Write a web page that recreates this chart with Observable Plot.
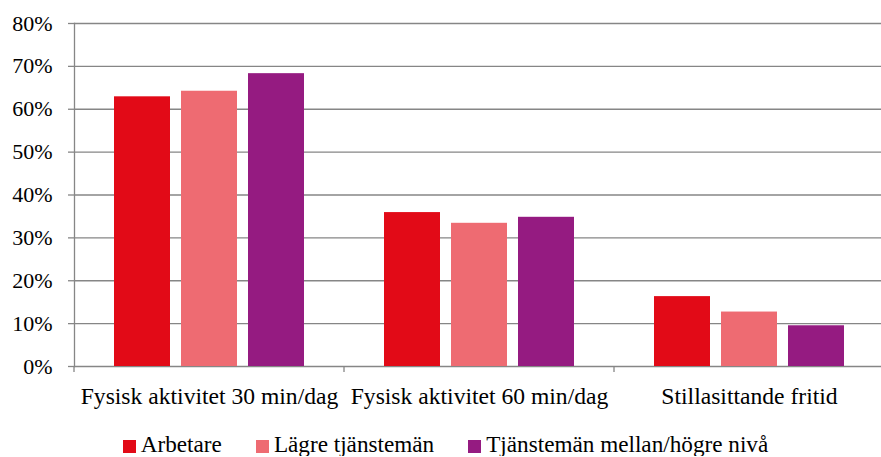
<!DOCTYPE html>
<html>
<head>
<meta charset="utf-8">
<script src="https://cdn.jsdelivr.net/npm/d3@7"></script>
<script src="https://cdn.jsdelivr.net/npm/@observablehq/plot@0.6"></script>
<style>
  html, body { margin: 0; padding: 0; background: #fff; overflow: hidden; }
  #chart { width: 881px; font-family: "Liberation Serif", "Times New Roman", serif; }
  .legend { display: flex; justify-content: center; align-items: center; font-size: 23.2px; color: #000; margin-top: 21px; padding-left: 10px; line-height: 1; }
  .legend .item { display: inline-flex; align-items: center; margin-right: 34px; }
  .legend .item:last-child { margin-right: 0; }
  .legend .sw { width: 13px; height: 13px; margin-right: 5px; margin-top: 3px; }
</style>
</head>
<body>
<div id="chart"></div>
<script>
const categories = ["Fysisk aktivitet 30 min/dag", "Fysisk aktivitet 60 min/dag", "Stillasittande fritid"];
const seriesNames = ["Arbetare", "Lägre tjänstemän", "Tjänstemän mellan/högre nivå"];
const arbetare = [0.629, 0.359, 0.163];
const lagreTjansteman = [0.642, 0.334, 0.127];
const hogreTjansteman = [0.683, 0.348, 0.095];
const colors = ["#E20A17", "#EE6B72", "#951B81"];
const yTicks = [0, 0.1, 0.2, 0.3, 0.4, 0.5, 0.6, 0.7, 0.8];

const seriesValues = [arbetare, lagreTjansteman, hogreTjansteman];
const data = [];
categories.forEach((c, i) => {
  seriesNames.forEach((s, j) => data.push({category: c, series: s, value: seriesValues[j][i]}));
});

const gray = "#868686";

const plot = Plot.plot({
  width: 881,
  height: 412,
  marginLeft: 73,
  marginRight: -3,
  marginTop: 23,
  marginBottom: 46,
  style: {fontFamily: "Liberation Serif, Times New Roman, serif", fontSize: "22px", color: "#000", background: "#fff", overflow: "visible"},
  fx: {domain: categories, padding: 0, label: null, axis: null},
  x: {domain: seriesNames, paddingInner: 0.168, paddingOuter: 0.59, axis: null},
  y: {domain: [0, 0.8], label: null, axis: null},
  color: {domain: seriesNames, range: colors},
  marks: [
    Plot.gridY(yTicks, {stroke: gray, strokeOpacity: 1, strokeWidth: 1.3}),
    Plot.axisY(yTicks, {tickFormat: d3.format(".0%"), tickSize: 6, tickPadding: 16, stroke: gray, fill: "#000", strokeWidth: 1.3, label: null}),
    Plot.axisFx({anchor: "bottom", tickSize: 0, tickPadding: 21, fontSize: 23.6, label: null}),
    Plot.frame({anchor: "left", stroke: gray, strokeWidth: 1.3, facetAnchor: "left"}),
    Plot.barY(data, {fx: "category", x: "series", y: "value", fill: "series"})
  ]
});

// Category separator ticks at facet band edges, computed from the plot's scales
const fx = plot.scale("fx");
const y = plot.scale("y");
const y0 = y.apply(0);
const edges = categories.map(c => fx.apply(c));
edges.push(fx.apply(categories[categories.length - 1]) + fx.bandwidth);
const g = d3.select(plot).append("g").attr("stroke", gray).attr("stroke-width", 1.3);
edges.forEach(xe => g.append("line").attr("x1", xe).attr("x2", xe).attr("y1", y0).attr("y2", y0 + 6));

document.getElementById("chart").appendChild(plot);

// Legend built from the plot's color scale
const color = plot.scale("color");
const legend = d3.select("#chart").append("div").attr("class", "legend");
seriesNames.forEach(name => {
  const item = legend.append("span").attr("class", "item");
  item.append("span").attr("class", "sw").style("background", color.apply(name));
  item.append("span").text(name);
});
</script>
</body>
</html>
